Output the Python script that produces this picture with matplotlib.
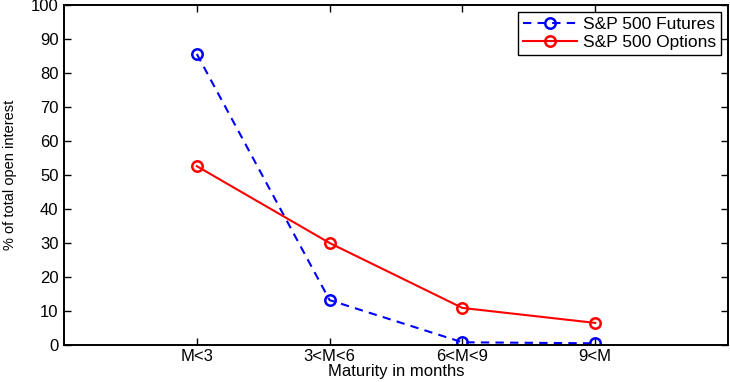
import matplotlib
matplotlib.use("Agg")
import matplotlib.pyplot as plt

categories = ["M<3", "3<M<6", "6<M<9", "9<M"]
futures = [85.6, 13.2, 0.8, 0.5]
options = [52.6, 30.0, 10.9, 6.5]
yticks = [0, 10, 20, 30, 40, 50, 60, 70, 80, 90, 100]

plt.rcParams['font.family'] = ['Liberation Sans', 'DejaVu Sans']
fig = plt.figure(figsize=(7.3, 3.82), dpi=100)
ax = fig.add_axes([64/730, 1-345/382, (728-64)/730, (345-5)/382])
x = list(range(1, len(categories)+1))
ax.plot(x, futures, linestyle=(0, (4, 3)), color='#0000ff', lw=1.5, marker='o',
        markersize=7.5, markerfacecolor='none', markeredgewidth=1.8, label='S&P 500 Futures')
ax.plot(x, options, linestyle='-', color='#ff0000', lw=1.5, marker='o',
        markersize=7.5, markerfacecolor='none', markeredgewidth=1.8, label='S&P 500 Options')
ax.set_xlim(0, 5)
ax.set_ylim(0, 100)
ax.set_xticks(x)
ax.set_xticklabels(categories)
ax.set_yticks(yticks)
ax.tick_params(direction='in', top=True, right=True, labelsize=12, length=5, width=1, pad=4)
ax.tick_params(axis='x', pad=3)
for s in ax.spines.values():
    s.set_linewidth(1.4)
ax.set_xlabel("Maturity in months", fontsize=12, labelpad=0)
ax.set_ylabel("% of total open interest", fontsize=10.5, labelpad=10)
leg = ax.legend(loc='upper right', fontsize=12.5, fancybox=False, framealpha=1,
                edgecolor='black', borderaxespad=0.4, handlelength=3.1,
                handletextpad=0.35, borderpad=0.3, labelspacing=0.15)
leg.get_frame().set_linewidth(1.0)
fig.savefig("out.png", dpi=100)
